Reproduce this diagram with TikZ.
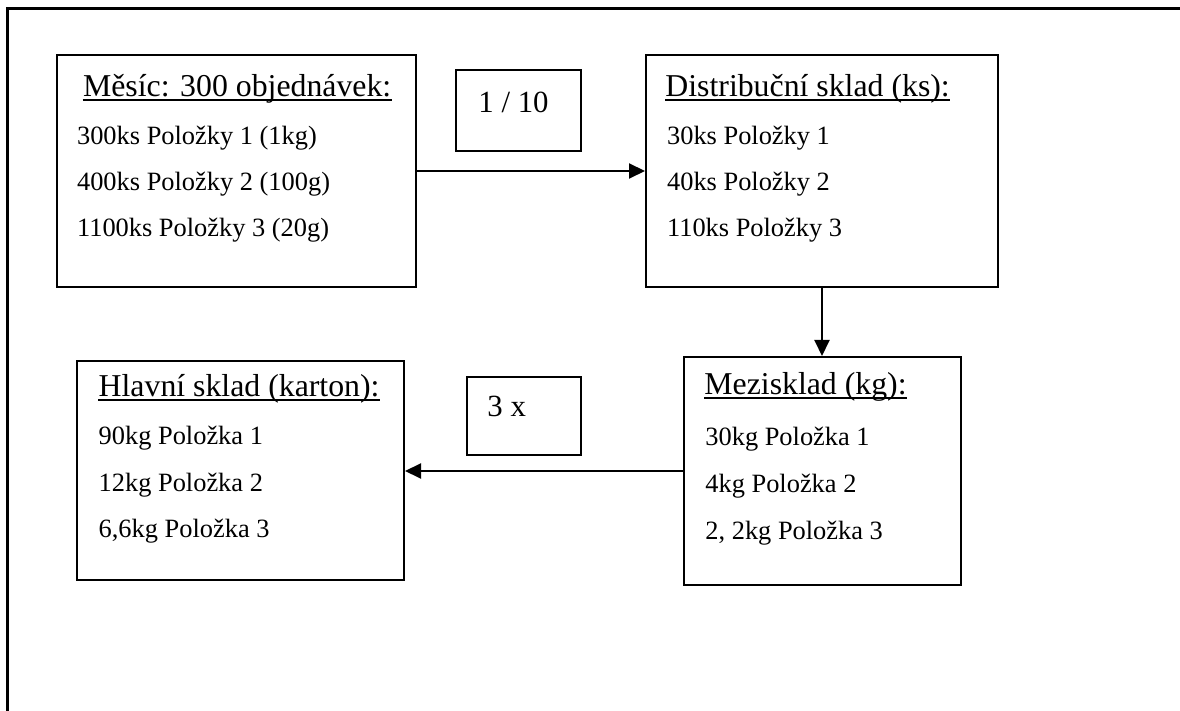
\documentclass[tikz,border=0pt]{standalone}
\usepackage{fontspec}
\setmainfont{Liberation Serif}
\usetikzlibrary{arrows.meta}
\begin{document}
\begin{tikzpicture}[x=0.5pt,y=-0.5pt,
  box/.style={draw,line width=1pt,inner sep=0,fill=none},
  title/.style={inner sep=0,anchor=base west,font=\fontsize{15.9}{18}\selectfont},
  item/.style={inner sep=0,anchor=base west,font=\fontsize{13.2}{15}\selectfont},
  tag/.style={inner sep=0,anchor=base west,font=\fontsize{15.4}{18}\selectfont},
  flow/.style={line width=1pt,-{Triangle[length=8pt,width=7.5pt]}},
  uline/.style={line width=0.9pt}]
\useasboundingbox (0,0) rectangle (1180,711);
% page frame (left and top edges)
\draw[line width=1.5pt] (7.5,711) -- (7.5,8.5) -- (1180,8.5);

% main boxes
\node[box,minimum width=179.5pt,minimum height=116pt] (mesic) at (236.5,171) {};
\node[box,minimum width=176pt,minimum height=116pt] (distr) at (822,171) {};
\node[box,minimum width=138.5pt,minimum height=114pt] (mezi) at (822,471) {};
\node[box,minimum width=163.5pt,minimum height=109.5pt] (hlavni) at (240.5,471) {};

% ratio boxes
\node[box,minimum width=62.5pt,minimum height=40.5pt] (ratioA) at (518.5,110.5) {};
\node[box,minimum width=57pt,minimum height=39pt] (ratioB) at (524,416) {};
\node[tag] (ratioAt) at (478,113) {1 / 10};
\node[tag] (ratioBt) at (487,417) {3 x};

% box texts
\node[title] (mesicT) at (82.7,97) {Měsíc: 300 objednávek:};
\node[item] (mesic1) at (76.7,145) {300ks Položky 1 (1kg)};
\node[item] (mesic2) at (76.7,191) {400ks Položky 2 (100g)};
\node[item] (mesic3) at (76.7,237) {1100ks Položky 3 (20g)};

\node[title] (distrT) at (665,97) {Distribuční sklad (ks):};
\node[item] (distr1) at (666.7,145) {30ks Položky 1};
\node[item] (distr2) at (666.7,191) {40ks Položky 2};
\node[item] (distr3) at (666.7,237) {110ks Položky 3};

\node[title] (meziT) at (704,395) {Mezisklad (kg):};
\node[item] (mezi1) at (705,446) {30kg Položka 1};
\node[item] (mezi2) at (705,493) {4kg Položka 2};
\node[item] (mezi3) at (705,540) {2, 2kg Položka 3};

\node[title] (hlavniT) at (98.3,397) {Hlavní sklad (karton):};
\node[item] (hlavni1) at (98.3,445) {90kg Položka 1};
\node[item] (hlavni2) at (98.3,492) {12kg Položka 2};
\node[item] (hlavni3) at (98.3,538) {6,6kg Položka 3};

% title underlines
\foreach \t in {mesicT,distrT,meziT,hlavniT}
  \draw[uline] ([yshift=-1.7pt]\t.base west) -- ([yshift=-1.7pt]\t.base east);

% flow arrows
\draw[flow] (mesic.east) -- (distr.west);
\draw[flow] (distr.south) -- (mezi.north);
\draw[flow] (mezi.west) -- (hlavni.east);
\end{tikzpicture}
\end{document}
